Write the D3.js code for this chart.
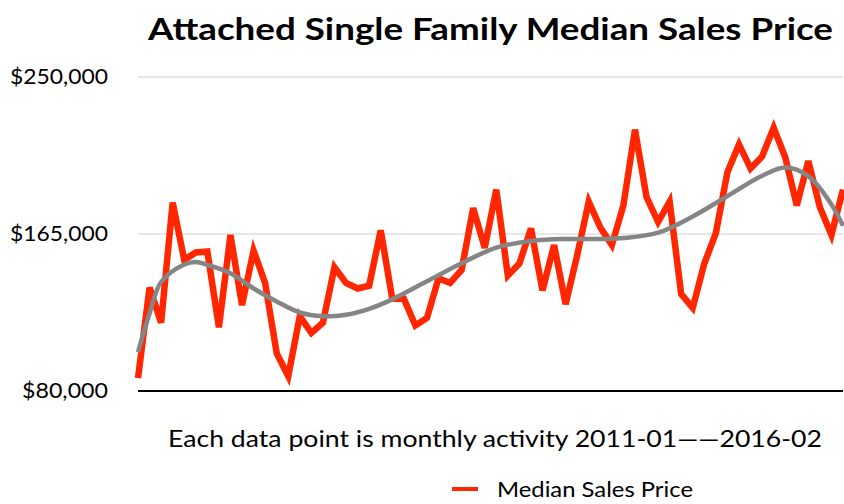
<!DOCTYPE html>
<html lang="en">
<head>
    <meta charset="UTF-8">
    <script src="https://d3js.org/d3.v7.min.js"></script>
    <title>Attached Single Family Median Sales Price</title>
    <style>
        body {
            margin: 0;
            background: #fff;
            font-family: Lato, "Open Sans", sans-serif;
        }
    </style>
</head>
<body>
    <script>
        // monthly median sales price, 2011-01 .. 2016-02 (62 months)
        const months = d3.range(62);
        const prices = [
            87000, 136000, 117000, 182000, 151000, 155000, 155500, 114500, 164500, 126500,
            156000, 138500, 100500, 88000, 120500, 111500, 117000, 147000, 138500, 135500,
            137000, 167000, 130000, 130000, 115500, 119500, 141000, 138500, 145500, 179000,
            157500, 189000, 142500, 149000, 168000, 134500, 159000, 127000, 153500, 182500,
            168500, 159000, 180500, 221500, 185000, 171500, 182500, 132500, 125000, 149000,
            165500, 198500, 213500, 200500, 207000, 222500, 206500, 180500, 204500, 179500,
            164500, 189000
        ];

        // grey trend line at a few months
        const trendMonths = [0, 1, 2, 4, 5, 6, 8, 10, 12, 14, 16, 18, 20, 22, 25, 28, 31, 34, 37, 40, 42, 45, 48, 51, 54, 56, 58, 60, 61];
        const trendValues = [
            101000, 122000, 139000, 148500, 149800, 148300, 143800, 135500, 128500, 122500, 120500,
            121300, 124500, 129600, 139400, 149200, 157600, 161200, 162300, 162300, 162800,
            165700, 174500, 185500, 196500, 201000, 196300, 181000, 169400
        ];

        const yTicks = [80000, 165000, 250000];
        const title = "Attached Single Family Median Sales Price";
        const xLabel = "Each data point is monthly activity 2011-01\u2014\u20142016-02";
        const seriesName = "Median Sales Price";

        const width = 844;
        const height = 504;

        const svg = d3.select("body").append("svg")
            .attr("width", width)
            .attr("height", height);

        const x = d3.scaleLinear().domain([0, 61]).range([138, 843]);
        const y = d3.scaleLinear().domain([80000, 250000]).range([391, 77]);

        // title (stretched to the width of the original font)
        svg.append("text")
            .attr("x", 148)
            .attr("y", 40)
            .attr("textLength", 685)
            .attr("lengthAdjust", "spacingAndGlyphs")
            .style("font-size", "31px")
            .style("font-weight", "bold")
            .text(title);

        // gridlines
        svg.append("g")
            .selectAll("line")
            .data(yTicks.slice(1))
            .enter().append("line")
            .attr("x1", 138)
            .attr("x2", 843)
            .attr("y1", d => y(d))
            .attr("y2", d => y(d))
            .style("stroke", "#cfcfcf")
            .style("stroke-width", 1.2);

        // y axis labels
        const yAxis = d3.axisLeft(y)
            .tickValues(yTicks)
            .tickSize(0)
            .tickPadding(0)
            .tickFormat(d => "$" + d3.format(",")(d));

        svg.append("g")
            .attr("transform", "translate(108,0)")
            .call(yAxis)
            .call(g => g.select(".domain").remove())
            .selectAll("text")
            .attr("textLength", d => d >= 100000 ? 98 : 86)
            .attr("lengthAdjust", "spacingAndGlyphs")
            .style("font-family", "Lato, 'Open Sans', sans-serif")
            .style("font-size", "21px")
            .style("fill", "#000");

        // data line
        const line = d3.line()
            .x((d, i) => x(months[i]))
            .y(d => y(d));

        svg.append("path")
            .datum(prices)
            .attr("d", line)
            .style("fill", "none")
            .style("stroke", "#ff2600")
            .style("stroke-width", 6.5)
            .style("stroke-linejoin", "miter");

        // trend line
        const trend = d3.line()
            .x((d, i) => x(trendMonths[i]))
            .y(d => y(d))
            .curve(d3.curveCatmullRom);

        svg.append("path")
            .datum(trendValues)
            .attr("d", trend)
            .style("fill", "none")
            .style("stroke", "#858585")
            .style("stroke-width", 4.5)
            .style("stroke-linecap", "butt");

        // bottom axis line
        svg.append("line")
            .attr("x1", 138)
            .attr("x2", 843)
            .attr("y1", y(80000))
            .attr("y2", y(80000))
            .style("stroke", "#000")
            .style("stroke-width", 2);

        // x label
        svg.append("text")
            .attr("x", 168)
            .attr("y", 447)
            .attr("textLength", 654)
            .attr("lengthAdjust", "spacingAndGlyphs")
            .style("font-size", "23px")
            .text(xLabel);

        // legend
        svg.append("line")
            .attr("x1", 452)
            .attr("x2", 478)
            .attr("y1", 489)
            .attr("y2", 489)
            .style("stroke", "#ff2600")
            .style("stroke-width", 4);

        svg.append("text")
            .attr("x", 497)
            .attr("y", 497)
            .attr("textLength", 196)
            .attr("lengthAdjust", "spacingAndGlyphs")
            .style("font-size", "22px")
            .text(seriesName);
    </script>
</body>
</html>
